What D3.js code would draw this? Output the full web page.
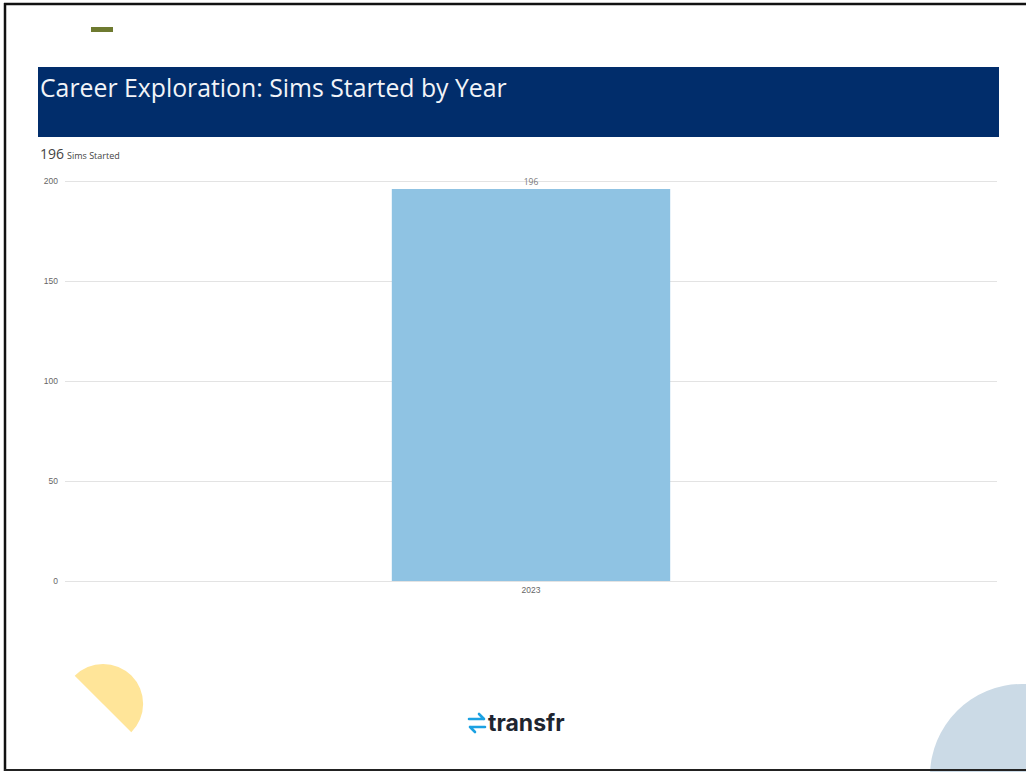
<!DOCTYPE html>
<html>
<head>
<meta charset="utf-8">
<script src="https://cdn.jsdelivr.net/npm/d3@7"></script>
<style>
  body { margin: 0; background: #fff; }
  svg { display: block; font-family: "Open Sans", sans-serif; }
</style>
</head>
<body>
<script>
// chart data
var years = ["2023"];
var simsStarted = [196];
var yTicks = [0, 50, 100, 150, 200];
var title = "Career Exploration: Sims Started by Year";

var width = 1026, height = 772;

var svg = d3.select("body").append("svg")
    .attr("width", width)
    .attr("height", height);

// page frame
svg.append("rect").attr("x", 0).attr("y", 0).attr("width", width).attr("height", height).attr("fill", "#fff");
svg.append("line").attr("x1", 4).attr("x2", width).attr("y1", 4).attr("y2", 4).attr("stroke", "#111").attr("stroke-width", 2.5);
svg.append("line").attr("x1", 5).attr("x2", 5).attr("y1", 3).attr("y2", 771).attr("stroke", "#111").attr("stroke-width", 2.5);

// decorations
svg.append("rect").attr("x", 91).attr("y", 27).attr("width", 22).attr("height", 5).attr("fill", "#6e7a30");

var arc = d3.arc().innerRadius(0).outerRadius(40).startAngle(-Math.PI / 4).endAngle(3 * Math.PI / 4);
svg.append("path").attr("d", arc()).attr("transform", "translate(103,704)").attr("fill", "#ffe599");

svg.append("circle").attr("cx", 1022).attr("cy", 776).attr("r", 92).attr("fill", "#cbdae6");
svg.append("line").attr("x1", 4).attr("x2", width).attr("y1", 770).attr("y2", 770).attr("stroke", "#222").attr("stroke-width", 2);

// title banner
svg.append("rect").attr("x", 38).attr("y", 67).attr("width", 961).attr("height", 70).attr("fill", "#012d6b");
svg.append("text").attr("x", 40).attr("y", 97).attr("fill", "#f2f4f8")
    .style("font-size", "24.8px").text(title);

// KPI
var kpi = svg.append("text").attr("x", 40).attr("y", 159).attr("fill", "#444");
kpi.append("tspan").style("font-size", "14px").text(d3.sum(simsStarted));
kpi.append("tspan").attr("dx", 3).style("font-size", "9px").text("Sims Started");

// chart
var margin = {left: 65, right: 997, top: 181, bottom: 581};

var x = d3.scaleBand().domain(years).range([margin.left, margin.right]).padding(0.54);
var y = d3.scaleLinear().domain([0, 200]).range([margin.bottom, margin.top]);

var yAxis = svg.append("g")
    .attr("transform", "translate(" + margin.left + ",0)")
    .call(d3.axisLeft(y).tickValues(yTicks).tickSize(-(margin.right - margin.left)).tickPadding(7));
yAxis.select(".domain").remove();
yAxis.selectAll(".tick line").attr("stroke", "#e3e3e3");
yAxis.selectAll(".tick text").attr("fill", "#666").style("font-size", "8.5px");

var xAxis = svg.append("g")
    .attr("transform", "translate(0," + margin.bottom + ")")
    .call(d3.axisBottom(x).tickSize(0).tickPadding(6));
xAxis.select(".domain").remove();
xAxis.selectAll(".tick text").attr("fill", "#666").style("font-size", "8.5px");

svg.append("g").selectAll("rect")
    .data(simsStarted)
    .enter().append("rect")
    .attr("x", function(d, i) { return x(years[i]); })
    .attr("width", x.bandwidth())
    .attr("y", function(d) { return y(d); })
    .attr("height", function(d) { return y(0) - y(d); })
    .attr("fill", "#8fc3e3");

svg.append("g").selectAll("text")
    .data(simsStarted)
    .enter().append("text")
    .attr("x", function(d, i) { return x(years[i]) + x.bandwidth() / 2; })
    .attr("y", function(d) { return y(d) - 4; })
    .attr("text-anchor", "middle")
    .attr("fill", "#777")
    .style("font-size", "8.5px")
    .text(function(d) { return d; });

// logo
var logo = svg.append("g").attr("transform", "translate(469,723)");
logo.append("path")
    .attr("d", "M0,-4 H15 M10,-9 L15,-4 M16,4 H1 M6,9 L1,4")
    .attr("fill", "none").attr("stroke", "#1ba1e2").attr("stroke-width", 2.6)
    .attr("stroke-linecap", "round").attr("stroke-linejoin", "round");
logo.append("text").attr("x", 19).attr("y", 8).attr("fill", "#1e2530")
    .style("font-size", "23px").style("font-weight", "700").style("font-family", "Inter, sans-serif")
    .text("transfr");
</script>
</body>
</html>
